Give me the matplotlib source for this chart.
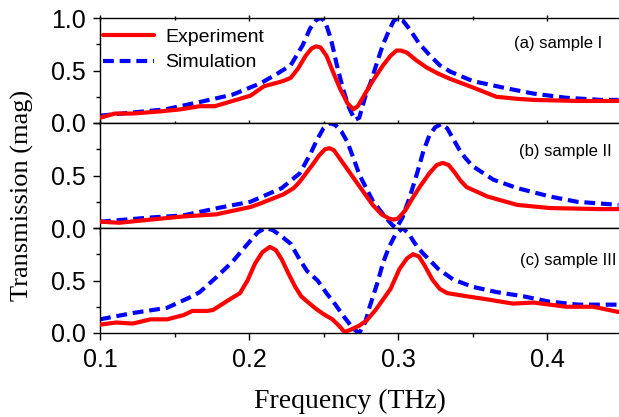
import matplotlib
matplotlib.use("Agg")
import matplotlib.pyplot as plt
from matplotlib.ticker import MultipleLocator, FixedLocator

# ---- data ----
a_exp_f = [0.100, 0.110, 0.122, 0.140, 0.154, 0.167, 0.177, 0.189, 0.201, 0.210, 0.218, 0.223,
           0.228, 0.233, 0.238, 0.242, 0.245, 0.248, 0.252, 0.256, 0.261, 0.266, 0.270, 0.273,
           0.278, 0.283, 0.290, 0.295, 0.299, 0.302, 0.306, 0.312, 0.319, 0.327, 0.335, 0.350,
           0.366, 0.380, 0.391, 0.420, 0.448]
a_exp_v = [0.05, 0.09, 0.09, 0.11, 0.13, 0.16, 0.16, 0.21, 0.26, 0.35, 0.38, 0.40,
           0.43, 0.52, 0.64, 0.71, 0.73, 0.72, 0.64, 0.50, 0.33, 0.19, 0.13, 0.16,
           0.28, 0.40, 0.55, 0.64, 0.69, 0.69, 0.67, 0.60, 0.53, 0.47, 0.42, 0.34,
           0.25, 0.23, 0.22, 0.21, 0.21]
a_sim_f = [0.100, 0.122, 0.144, 0.167, 0.189, 0.208, 0.219, 0.228, 0.236, 0.241, 0.245, 0.248,
           0.251, 0.255, 0.259, 0.263, 0.267, 0.271, 0.274, 0.278, 0.282, 0.286, 0.290, 0.294,
           0.297, 0.300, 0.303, 0.308, 0.314, 0.321, 0.328, 0.335, 0.350, 0.373, 0.391, 0.413,
           0.436, 0.448]
a_sim_v = [0.07, 0.10, 0.13, 0.20, 0.27, 0.38, 0.47, 0.55, 0.74, 0.90, 0.98, 1.00,
           0.97, 0.80, 0.55, 0.33, 0.15, 0.03, 0.05, 0.25, 0.40, 0.58, 0.75, 0.88,
           0.97, 1.00, 0.98, 0.89, 0.76, 0.65, 0.55, 0.49, 0.40, 0.33, 0.28, 0.24,
           0.22, 0.22]

b_exp_f = [0.100, 0.113, 0.134, 0.156, 0.178, 0.201, 0.207, 0.223, 0.230, 0.234, 0.243, 0.247,
           0.251, 0.254, 0.257, 0.261, 0.266, 0.270, 0.276, 0.283, 0.289, 0.294, 0.297, 0.300,
           0.305, 0.310, 0.315, 0.321, 0.326, 0.330, 0.334, 0.338, 0.342, 0.346, 0.360, 0.380,
           0.402, 0.436, 0.448]
b_exp_v = [0.06, 0.05, 0.08, 0.11, 0.13, 0.20, 0.23, 0.32, 0.38, 0.44, 0.61, 0.69,
           0.75, 0.76, 0.74, 0.66, 0.56, 0.48, 0.36, 0.22, 0.13, 0.09, 0.08, 0.09,
           0.17, 0.29, 0.40, 0.52, 0.60, 0.62, 0.60, 0.53, 0.45, 0.39, 0.30, 0.22,
           0.19, 0.18, 0.18]
b_sim_f = [0.100, 0.134, 0.156, 0.179, 0.201, 0.222, 0.234, 0.241, 0.246, 0.250, 0.254, 0.258,
           0.262, 0.266, 0.270, 0.274, 0.279, 0.283, 0.290, 0.296, 0.299, 0.303, 0.308, 0.313,
           0.317, 0.321, 0.325, 0.329, 0.333, 0.337, 0.341, 0.345, 0.350, 0.364, 0.380, 0.402,
           0.420, 0.448]
b_sim_v = [0.06, 0.10, 0.12, 0.19, 0.25, 0.38, 0.52, 0.70, 0.85, 0.95, 1.00, 0.98,
           0.92, 0.82, 0.67, 0.51, 0.37, 0.26, 0.13, 0.03, 0.00, 0.10, 0.30, 0.53,
           0.73, 0.88, 0.96, 0.99, 0.95, 0.85, 0.75, 0.67, 0.59, 0.46, 0.38, 0.30,
           0.25, 0.22]

c_exp_f = [0.100, 0.111, 0.122, 0.134, 0.145, 0.156, 0.162, 0.172, 0.176, 0.187, 0.194, 0.199,
           0.204, 0.209, 0.214, 0.218, 0.222, 0.226, 0.231, 0.235, 0.239, 0.245, 0.250, 0.256,
           0.261, 0.264, 0.268, 0.274, 0.279, 0.285, 0.290, 0.295, 0.301, 0.306, 0.310, 0.314,
           0.318, 0.323, 0.328, 0.333, 0.346, 0.360, 0.377, 0.391, 0.413, 0.431, 0.448]
c_exp_v = [0.08, 0.10, 0.09, 0.13, 0.13, 0.17, 0.21, 0.21, 0.22, 0.32, 0.38, 0.50,
           0.66, 0.77, 0.82, 0.79, 0.70, 0.58, 0.44, 0.35, 0.30, 0.23, 0.18, 0.13,
           0.06, 0.01, 0.03, 0.07, 0.12, 0.22, 0.32, 0.42, 0.61, 0.71, 0.75, 0.73,
           0.64, 0.51, 0.42, 0.38, 0.35, 0.32, 0.28, 0.29, 0.25, 0.25, 0.20]
c_sim_f = [0.100, 0.122, 0.145, 0.162, 0.167, 0.178, 0.189, 0.195, 0.201, 0.206, 0.211, 0.216,
           0.221, 0.228, 0.234, 0.239, 0.246, 0.252, 0.258, 0.264, 0.270, 0.274, 0.278, 0.281,
           0.286, 0.290, 0.294, 0.298, 0.303, 0.307, 0.311, 0.316, 0.327, 0.337, 0.350, 0.366,
           0.384, 0.401, 0.421, 0.448]
c_sim_v = [0.13, 0.19, 0.24, 0.35, 0.39, 0.53, 0.68, 0.78, 0.88, 0.96, 1.00, 0.98,
           0.93, 0.85, 0.70, 0.59, 0.50, 0.38, 0.27, 0.15, 0.04, 0.00, 0.10, 0.25,
           0.47, 0.67, 0.82, 0.93, 1.00, 0.95, 0.86, 0.77, 0.61, 0.51, 0.44, 0.39,
           0.35, 0.30, 0.27, 0.27]

panel_labels = ["(a) sample I", "(b) sample II", "(c) sample III"]
label_pos = [(0.437, 0.76), (0.4436, 0.73), (0.4466, 0.69)]
x_ticks = [0.1, 0.2, 0.3, 0.4]
series_names = ["Experiment", "Simulation"]

SANS = "Liberation Sans"
SERIF = "Liberation Serif"

W, H = 619, 417
fig = plt.figure(figsize=(W / 100, H / 100), dpi=100)

left_px, right_px = 100, 621.5
top_px, bottom_px = 18, 333
ph = (bottom_px - top_px) / 3.0

data = [(a_exp_f, a_exp_v, a_sim_f, a_sim_v),
        (b_exp_f, b_exp_v, b_sim_f, b_sim_v),
        (c_exp_f, c_exp_v, c_sim_f, c_sim_v)]

axes = []
for i, (ef, ev, sf, sv) in enumerate(data):
    t = top_px + i * ph
    ax = fig.add_axes([left_px / W, 1 - (t + ph) / H, (right_px - left_px) / W, ph / H])
    axes.append(ax)
    l1, = ax.plot(ef, ev, color="#ff0000", lw=3.0, solid_joinstyle="round",
                  solid_capstyle="round", zorder=3)
    l2, = ax.plot(sf, sv, color="#0000ff", lw=3.0, linestyle=(0, (2.6, 1.4)),
                  dash_joinstyle="round", zorder=2)
    ax.set_xlim(0.1, 0.45)
    ax.set_ylim(0.0, 1.0)
    ax.xaxis.set_major_locator(FixedLocator(x_ticks))
    ax.xaxis.set_minor_locator(MultipleLocator(0.05))
    ax.yaxis.set_major_locator(FixedLocator([0.0, 0.5, 1.0]))
    ax.yaxis.set_minor_locator(FixedLocator([0.25, 0.75]))
    ax.spines["right"].set_visible(False)
    for s in ax.spines.values():
        s.set_linewidth(1.0)
    ax.tick_params(axis="y", which="both", direction="out", left=True, right=False, width=1.0)
    ax.tick_params(axis="y", which="major", length=5, pad=5.5, labelsize=18)
    ax.tick_params(axis="y", which="minor", length=3)
    ax.tick_params(axis="x", which="both", direction="out", bottom=True, top=False, width=1.0)
    ax.tick_params(axis="x", which="major", length=5, pad=5.5, labelsize=18)
    ax.tick_params(axis="x", which="minor", length=3)
    if i == 0:
        ax.tick_params(axis="x", which="both", top=True, direction="inout")
        ax.tick_params(axis="x", which="major", length=5, pad=5.5)
    if i < 2:
        ax.tick_params(axis="x", which="both", labelbottom=False)
    ax.set_yticklabels(["0.0", "0.5", "1.0" if i == 0 else ""])
    for lab in ax.get_xticklabels() + ax.get_yticklabels():
        lab.set_fontfamily(SANS)
    ax.text(label_pos[i][0], label_pos[i][1], panel_labels[i], ha="right", va="center",
            fontsize=12, fontfamily=SANS)
    if i == 0:
        leg = ax.legend([l1, l2], series_names, loc="upper left",
                        bbox_to_anchor=(103 / W, 1 - 28 / H), bbox_transform=fig.transFigure,
                        frameon=False, borderpad=0, borderaxespad=0, handlelength=2.6,
                        handletextpad=0.6, labelspacing=0.42,
                        prop={"family": SANS, "size": 14})

axes[2].set_xticklabels(["0.1", "0.2", "0.3", "0.4"])
for lab in axes[2].get_xticklabels():
    lab.set_fontfamily(SANS)

fig.text(350 / W, 1 - 401 / H, "Frequency (THz)", ha="center", va="center",
         fontsize=20, fontfamily=SERIF)
fig.text(22 / W, 1 - 195 / H, "Transmission (mag)", ha="center", va="center",
         rotation=90, fontsize=19, fontfamily=SERIF)

fig.savefig("out.png", dpi=100)
